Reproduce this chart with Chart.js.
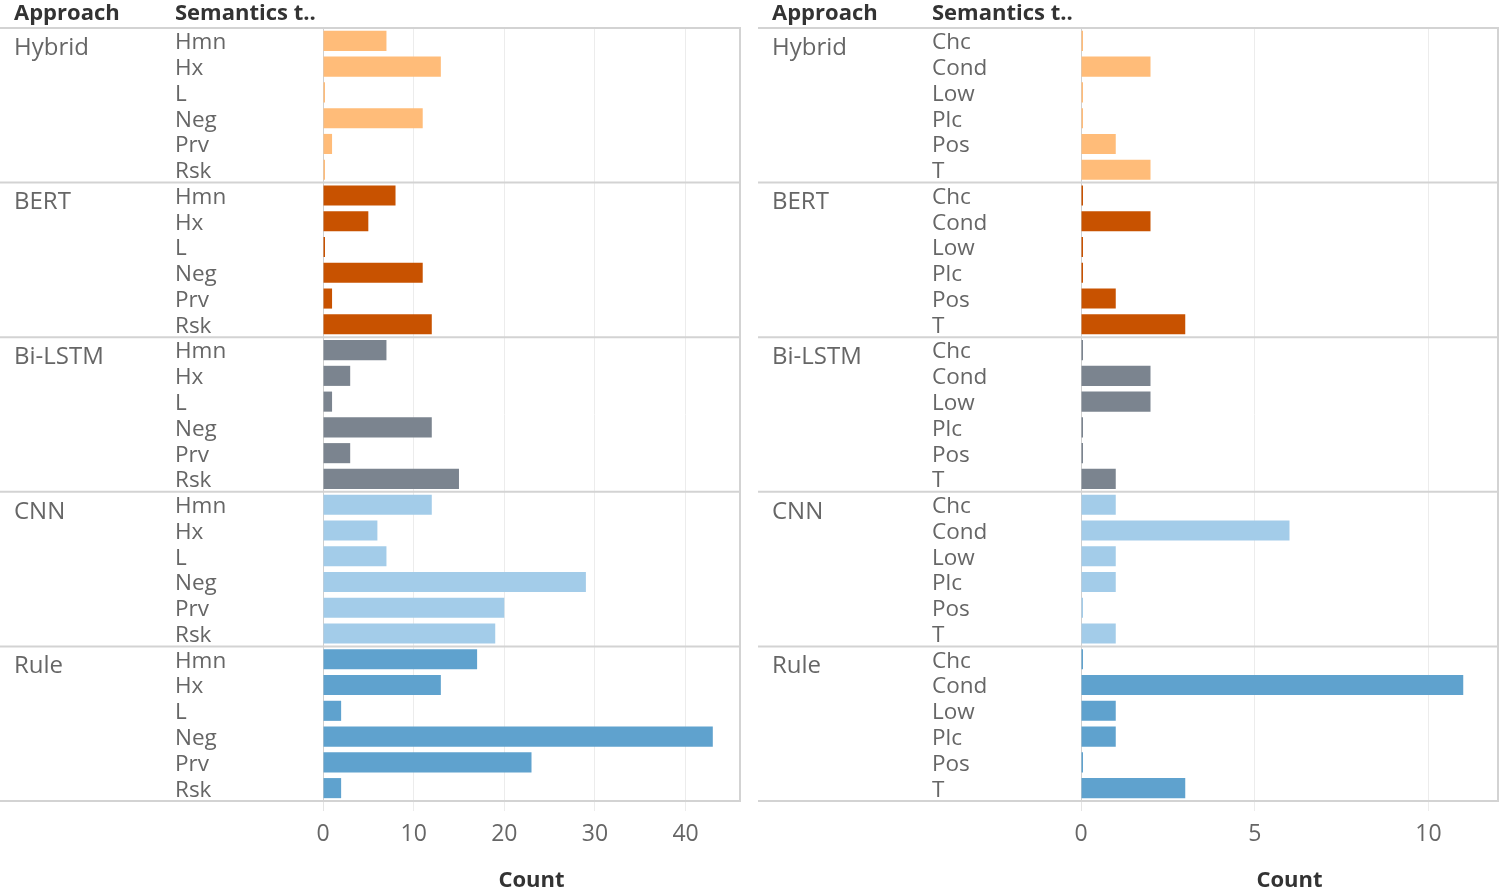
<!DOCTYPE html>
<html><head><meta charset="utf-8">
<script src="https://cdn.jsdelivr.net/npm/chart.js@4/dist/chart.umd.min.js"></script>
<style>
html,body{margin:0;padding:0;background:#fff;overflow:hidden;width:1500px;height:892px}
.p{position:absolute;top:0;width:750px;height:892px}
</style></head><body>
<div class="p" style="left:0"><canvas id="c1"></canvas></div>
<div class="p" style="left:750px"><canvas id="c2"></canvas></div>
<script>
// ---- data ----
const approaches = ['Hybrid', 'BERT', 'Bi-LSTM', 'CNN', 'Rule'];
const approachColors = ['#ffbc79', '#c85200', '#7b848f', '#a3cce9', '#5fa2ce'];

const leftTypes = ['Hmn', 'Hx', 'L', 'Neg', 'Prv', 'Rsk'];
const leftHybrid = [7, 13, 0, 11, 1, 0];
const leftBERT = [8, 5, 0, 11, 1, 12];
const leftBiLSTM = [7, 3, 1, 12, 3, 15];
const leftCNN = [12, 6, 7, 29, 20, 19];
const leftRule = [17, 13, 2, 43, 23, 2];
const leftTicks = [0, 10, 20, 30, 40];

const rightTypes = ['Chc', 'Cond', 'Low', 'Plc', 'Pos', 'T'];
const rightHybrid = [0, 2, 0, 0, 1, 2];
const rightBERT = [0, 2, 0, 0, 1, 3];
const rightBiLSTM = [0, 2, 2, 0, 0, 1];
const rightCNN = [1, 6, 1, 1, 0, 1];
const rightRule = [0, 11, 1, 1, 0, 3];
const rightTicks = [0, 5, 10];

const axisTitle = 'Count';
const headerApproach = 'Approach';
const headerSemantics = 'Semantics t..';

Chart.defaults.font.family = "'Open Sans', sans-serif";

const panelPlugin = {
  id: 'panelLines',
  afterDraw(chart) {
    const { ctx, chartArea } = chart;
    const ys = chart.scales.y, a = chart.scales.y2;
    const n = ys.getLabels().length, per = 6;
    const x0 = a.left - 14, x1 = chartArea.right;
    ctx.save();
    ctx.strokeStyle = '#d3d3d3';
    ctx.lineWidth = 2;
    for (let k = 0; k <= n / per; k++) {
      let y;
      if (k === 0) y = chartArea.top;
      else if (k === n / per) y = chartArea.bottom;
      else y = (ys.getPixelForTick(k * per - 1) + ys.getPixelForTick(k * per)) / 2;
      ctx.beginPath(); ctx.moveTo(x0, y); ctx.lineTo(x1, y); ctx.stroke();
    }
    ctx.beginPath(); ctx.moveTo(x1, chartArea.top - 1); ctx.lineTo(x1, chartArea.bottom + 1); ctx.stroke();
    ctx.fillStyle = '#333';
    ctx.font = "bold 22px 'Open Sans', sans-serif";
    ctx.textBaseline = 'alphabetic';
    ctx.textAlign = 'left';
    ctx.fillText(headerApproach, a.left, chartArea.top - 8);
    ctx.fillText(headerSemantics, ys.left, chartArea.top - 8);
    ctx.restore();
  }
};

function makePanel(canvasId, types, groups, ticks, max, cfg) {
  const semLabels = [], appLabels = [], values = [], colors = [];
  groups.forEach((g, gi) => {
    g.forEach((v, i) => {
      semLabels.push(types[i]);
      appLabels.push(i === 0 ? approaches[gi] : '');
      values.push(v);
      colors.push(approachColors[gi]);
    });
  });
  new Chart(document.getElementById(canvasId), {
    type: 'bar',
    data: {
      labels: semLabels,
      datasets: [{
        data: values,
        backgroundColor: colors,
        borderWidth: 0,
        barPercentage: 0.78,
        categoryPercentage: 1,
        minBarLength: 2,
        yAxisID: 'y'
      }]
    },
    options: {
      indexAxis: 'y',
      responsive: false,
      animation: false,
      events: [],
      layout: { padding: { left: cfg.padLeft, right: cfg.padRight, top: 28, bottom: 0 } },
      plugins: { legend: { display: false }, tooltip: { enabled: false } },
      scales: {
        x: {
          type: 'linear', min: 0, max: max,
          afterBuildTicks: s => { s.ticks = ticks.map(v => ({ value: v })); },
          ticks: { color: '#666', font: { size: 23 }, padding: 10, maxRotation: 0 },
          grid: {
            color: c => (c.tick && c.tick.value === 0) ? '#cfcfcf' : '#ececec',
            tickColor: c => (c.tick && c.tick.value === 0) ? '#e4e4e4' : '#ececec',
            tickLength: 10
          },
          border: { display: false },
          title: { display: true, text: axisTitle, color: '#333', font: { size: 22, weight: 'bold', lineHeight: 1.0 }, padding: { top: 8, bottom: 0 } },
          afterFit: s => { s.height = 91; }
        },
        y: {
          type: 'category', labels: semLabels, offset: true, position: 'left', weight: 0,
          grid: { display: false },
          border: { display: true, color: '#cfcfcf', width: 1 },
          ticks: { crossAlign: 'far', autoSkip: false, color: '#666', font: { size: 22.5 }, padding: 0, labelOffset: 2 },
          afterFit: s => { s.width = cfg.semW; }
        },
        y2: {
          type: 'category', labels: appLabels, offset: true, position: 'left', weight: 1,
          grid: { display: false, drawTicks: false },
          border: { display: false },
          ticks: { crossAlign: 'far', autoSkip: false, color: '#666', font: { size: 24 }, padding: 0, labelOffset: 7 },
          afterFit: s => { s.width = cfg.appW; }
        }
      }
    },
    plugins: [panelPlugin]
  });
}

const c1 = document.getElementById('c1'); c1.width = 750; c1.height = 892;
const c2 = document.getElementById('c2'); c2.width = 750; c2.height = 892;

makePanel('c1', leftTypes, [leftHybrid, leftBERT, leftBiLSTM, leftCNN, leftRule], leftTicks, 46,
  { padLeft: 14, appW: 161, semW: 148, padRight: 10 });
makePanel('c2', rightTypes, [rightHybrid, rightBERT, rightBiLSTM, rightCNN, rightRule], rightTicks, 12,
  { padLeft: 22, appW: 160, semW: 149, padRight: 2 });
</script>
</body></html>
